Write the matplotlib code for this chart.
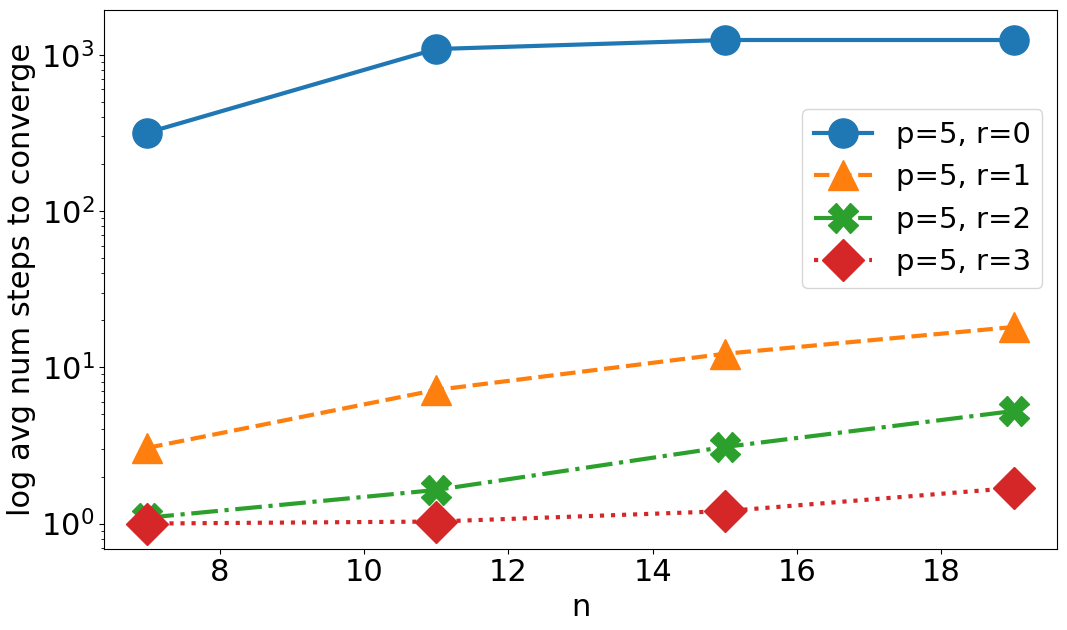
import matplotlib
matplotlib.use("Agg")
import matplotlib.pyplot as plt

n_values = [7, 11, 15, 19]
steps_r0 = [317, 1087, 1242, 1242]
steps_r1 = [3.05, 7.16, 12.2, 18.1]
steps_r2 = [1.09, 1.64, 3.09, 5.25]
steps_r3 = [1.0, 1.03, 1.2, 1.69]
labels = ["p=5, r=0", "p=5, r=1", "p=5, r=2", "p=5, r=3"]

plt.rcParams["font.size"] = 22

fig, ax = plt.subplots(figsize=(10.67, 6.3), dpi=100)
styles = [("o", "-"), ("^", "--"), ("X", "-."), ("D", ":")]
for series, label, (marker, ls) in zip([steps_r0, steps_r1, steps_r2, steps_r3], labels, styles):
    ax.plot(n_values, series, marker=marker, linestyle=ls, linewidth=3,
            markersize=21, label=label)

ax.set_yscale("log")
ax.set_ylim(0.69, 1930)
ax.set_xlabel("n")
ax.set_ylabel("log avg num steps to converge")
ax.set_xticks([8, 10, 12, 14, 16, 18])
ax.legend(loc="center right", bbox_to_anchor=(1.0, 0.65), fontsize=21)
plt.subplots_adjust(left=0.0975, right=0.9906, top=0.984, bottom=0.129)
fig.savefig("out.png", dpi=100)
